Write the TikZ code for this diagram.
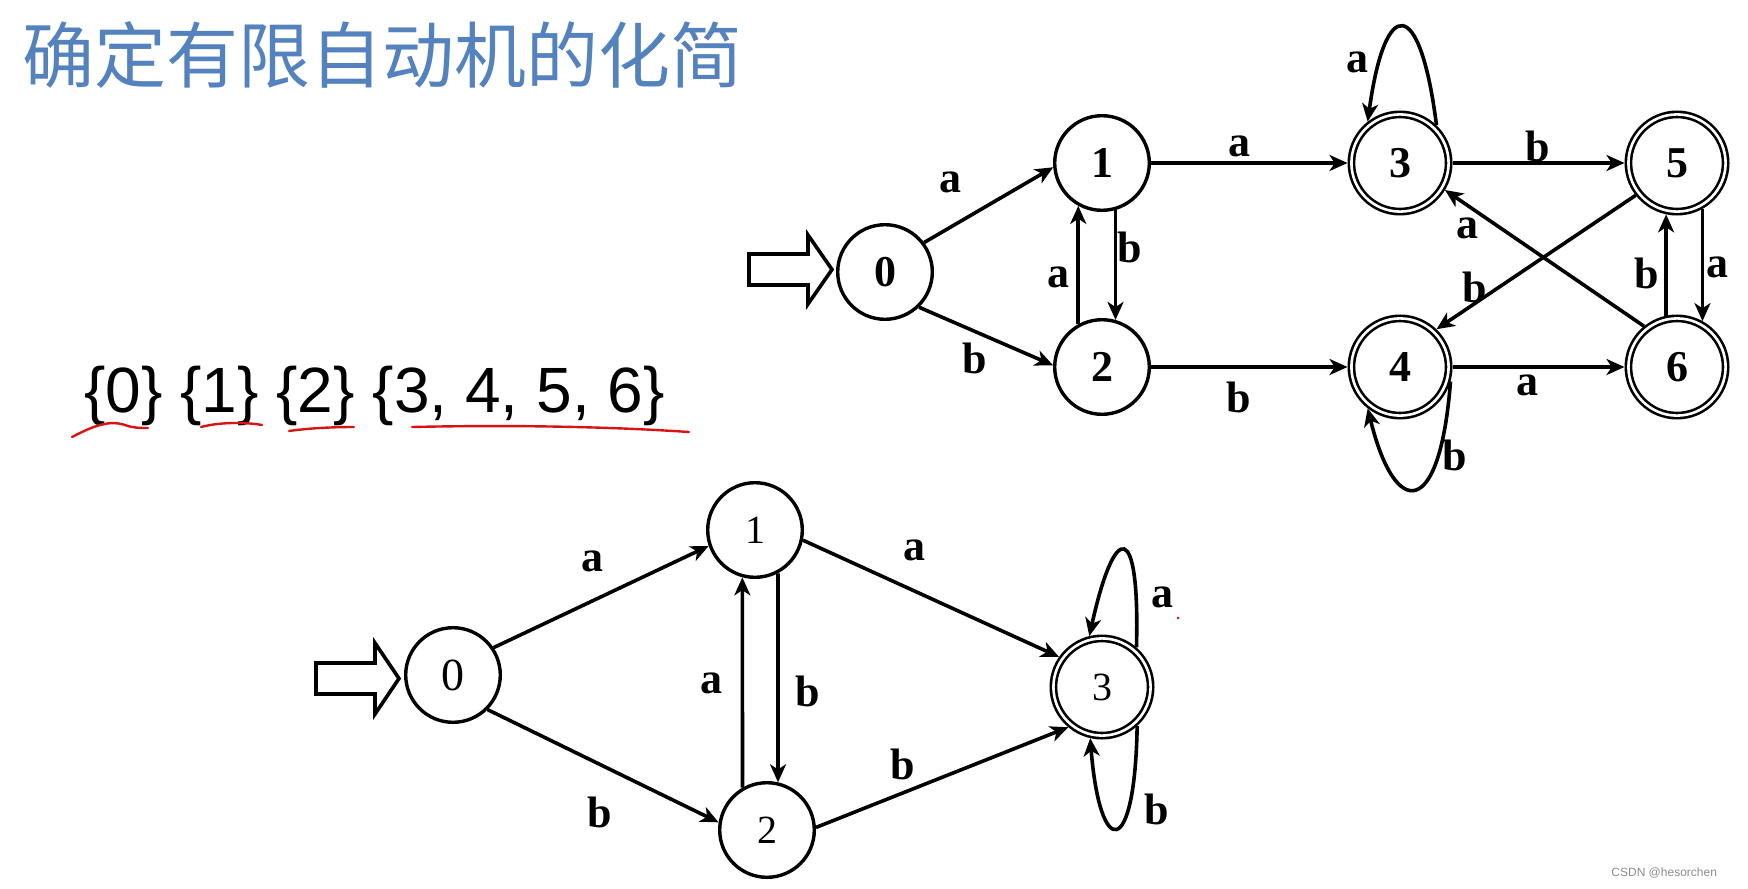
\documentclass[tikz,border=0pt]{standalone}
\usepackage{fontspec}
\setmainfont{Liberation Serif}
\newfontfamily\arialf{Liberation Sans}
\newfontfamily\cjkf{Noto Sans CJK SC}
\usetikzlibrary{arrows.meta}
\definecolor{titleblue}{RGB}{84,130,190}
\definecolor{penred}{RGB}{215,20,20}
\tikzset{
  state/.style={circle, draw, line width=1.7pt, minimum size=47.3pt, inner sep=0pt, outer sep=0.85pt, font=\fontsize{22}{22}\selectfont\bfseries},
  acc/.style={circle, draw, line width=1.3pt, double, double distance=1.3pt, minimum size=48.6pt, inner sep=0pt, outer sep=1.95pt, font=\fontsize{22}{22}\selectfont\bfseries},
  lbl/.style={font=\fontsize{22}{22}\selectfont\bfseries, inner sep=0pt},
  tr/.style={line width=1.8pt, -{Stealth[length=9pt,width=8pt,inset=2.6pt]}},
  startarrow/.style={draw, line width=1.8pt, fill=white, line join=miter},
  pen/.style={penred, line width=1.2pt, line cap=round},
  regnum/.style={font=\fontsize{20}{20}\selectfont}
}
\begin{document}
\begin{tikzpicture}[x=0.5pt,y=-0.5pt]
\useasboundingbox (0,0) rectangle (1748,888);
% title
\node[anchor=west, inner sep=0pt, text=titleblue, font=\cjkf\fontsize{36}{36}\selectfont] (title) at (22,55) {确定有限自动机的化简};
% partition
\node[anchor=base west, inner sep=0pt, font=\arialf\fontsize{32}{32}\selectfont] (part) at (84,412) {\{0\} \{1\} \{2\} \{3, 4, 5, 6\}};
\draw[pen] (72,437) .. controls (95,425) and (110,420) .. (125,425) .. controls (133,428) and (140,428) .. (148,428);
\draw[pen] (201,427) .. controls (220,422) and (245,422) .. (262,425);
\draw[pen] (289,431) .. controls (310,428) and (335,427) .. (354,427);
\draw[pen] (412,427) .. controls (500,425) and (600,426) .. (689,432);

% ---------- top automaton ----------
\node[state] (t0) at (885,272) {0};
\node[state] (t1) at (1102,163) {1};
\node[state] (t2) at (1102,367) {2};
\node[acc] (t3) at (1400,163) {3};
\node[acc] (t4) at (1400,367) {4};
\node[acc] (t5) at (1677,163) {5};
\node[acc] (t6) at (1677,367) {6};
\draw[startarrow] (749,254) -- (808,254) -- (808,235) -- (832,269.5) -- (808,304) -- (808,285) -- (749,285) -- cycle;

\draw[tr] (t0.37) -- (t1.185);
\draw[tr] (t0.-46) -- (t2.178);
\draw[tr] (t1.-74.6) -- (t2.74.6);
\draw[tr] (t2.119.3) -- (t1.-119.3);
\draw[tr] (t1.0) -- (t3.180);
\draw[tr] (t2.0) -- (t4.180);
\draw[tr] (t3.0) -- (t5.180);
\draw[tr] (t4.0) -- (t6.180);
\draw[tr] (t5.-61.6) -- (t6.61.6);
\draw[tr] (t6.102) -- (t5.-102);
\draw[tr] (t5.218) -- (t4.46);
\draw[tr] (t6.129) -- (t3.-31);
\draw[tr] (t3.46) .. controls (1420,-5) and (1385,-5) .. (t3.128);
\draw[tr] (t4.-16) .. controls (1440,520) and (1395,520) .. (t4.-128);

\node[lbl] (la01) at (950,182) {a};
\node[lbl] (lb02) at (975,358) {b};
\node[lbl] (la21) at (1058,277) {a};
\node[lbl] (lb12) at (1130,247) {b};
\node[lbl] (la13) at (1239,146) {a};
\node[lbl] (lb24) at (1239,397) {b};
\node[lbl] (la33) at (1357,62) {a};
\node[lbl] (lb35) at (1538,146) {b};
\node[lbl] (la46) at (1527,385) {a};
\node[lbl] (lb44) at (1455,455) {b};
\node[lbl] (la63) at (1467,228) {a};
\node[lbl] (lb54) at (1475,287) {b};
\node[lbl] (lb65) at (1647,273) {b};
\node[lbl] (la56) at (1717,267) {a};

% ---------- bottom automaton ----------
\node[state, font=\fontsize{23}{23}\selectfont] (b0) at (453,675) {0};
\node[state, regnum] (b1) at (755,530) {1};
\node[state, regnum] (b2) at (767,830) {2};
\node[acc, regnum] (b3) at (1102,687) {3};
\draw[startarrow] (316,663) -- (375,663) -- (375,643) -- (399,678.5) -- (375,714) -- (375,694) -- (316,694) -- cycle;

\draw[tr] (b0.34) -- (b1.-161);
\draw[tr] (b0.-45) -- (b2.171);
\draw[tr] (b1.-62) -- (b2.77);
\draw[tr] (b2.120.7) -- (b1.-105.4);
\draw[tr] (b1.-12) -- (b3.145);
\draw[tr] (b2.3) -- (b3.-130);
\draw[tr] (b3.49) .. controls (1140,520) and (1115,520) .. (b3.104);
\draw[tr] (b3.-48) .. controls (1135,860) and (1100,860) .. (b3.-103);

\node[lbl] (lba01) at (592,561) {a};
\node[lbl] (lbb02) at (600,812) {b};
\node[lbl] (lba21) at (711,683) {a};
\node[lbl] (lbb12) at (808,691) {b};
\node[lbl] (lba13) at (914,550) {a};
\node[lbl] (lbb23) at (903,764) {b};
\node[lbl] (lba33) at (1162,597) {a};
\node[lbl] (lbb33) at (1157,809) {b};
\fill[penred] (1178,618) circle (1.5);

% watermark
\node[anchor=west, inner sep=0pt, text=black!45, font=\arialf\fontsize{6}{6}\selectfont] (wm) at (1611,873) {CSDN @hesorchen};
\end{tikzpicture}
\end{document}
